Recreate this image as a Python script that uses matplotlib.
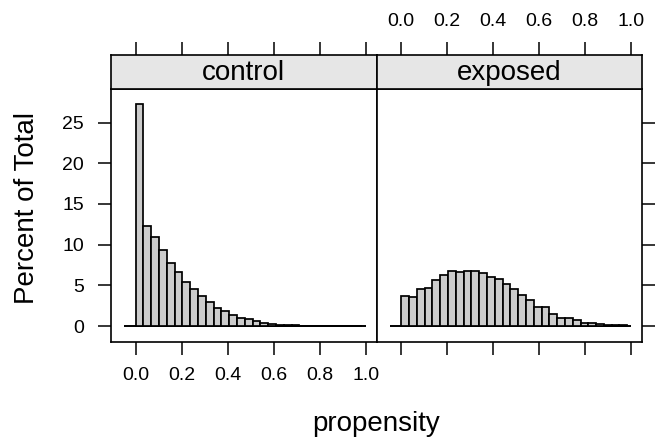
import numpy as np
import matplotlib
matplotlib.use("Agg")
import matplotlib.pyplot as plt

plt.rcParams["font.family"] = ["Liberation Sans", "DejaVu Sans"]

# ---------- data (percent of total per bin) ----------
groups = ["control", "exposed"]
bin_width = 0.0339
hist_range = (-0.05, 1.0)

control_pct = [27.3, 12.33, 10.98, 9.34, 7.79, 6.64, 5.37, 4.59, 3.69, 2.91,
               2.25, 1.84, 1.35, 1.02, 0.82, 0.57, 0.37, 0.25, 0.16, 0.12,
               0.08, 0.05, 0.03, 0.02, 0.01, 0.01, 0.0, 0.0, 0.0]
exposed_pct = [3.65, 3.53, 4.51, 4.63, 5.66, 6.31, 6.80, 6.64, 6.80, 6.80,
               6.56, 6.07, 5.74, 5.12, 4.51, 3.81, 3.24, 2.38, 2.34, 1.52,
               1.02, 0.98, 0.74, 0.41, 0.37, 0.20, 0.16, 0.12, 0.08]

x_ticks = [0.0, 0.2, 0.4, 0.6, 0.8, 1.0]
x_labels = ["0.0", "0.2", "0.4", "0.6", "0.8", "1.0"]
y_ticks = [0, 5, 10, 15, 20, 25]

# ---------- layout ----------
W, H = 660, 437
fig = plt.figure(figsize=(6.6, 4.37), dpi=100)

xlim = (-0.107, 1.047)
ylim = (-1.93, 29.2)
tick_len = 9.4
tick_fs = 14
lab_fs = 20

panel_left = [111, 376.5]
panel_w = 265.5
panel_bot, panel_top = 341.7, 88.5
strip_top = 55

for i, (name, pct) in enumerate(zip(groups, [control_pct, exposed_pct])):
    x0 = panel_left[i] / W
    ax = fig.add_axes([x0, (H - panel_bot) / H, panel_w / W, (panel_bot - panel_top) / H])
    lefts = np.arange(len(pct)) * bin_width
    ax.hlines(0, hist_range[0], hist_range[1], color="black", lw=1.4, zorder=1)
    ax.bar(lefts, pct, width=bin_width, align="edge", color="#CCCCCC",
           edgecolor="black", linewidth=1.25, zorder=2)
    ax.set_xlim(xlim)
    ax.set_ylim(ylim)
    ax.set_xticks(x_ticks)
    ax.set_yticks(y_ticks)
    ax.tick_params(direction="out", length=tick_len, width=1.1, labelsize=tick_fs,
                   pad=8.5, top=False)
    if i == 0:
        ax.set_xticklabels(x_labels)
        ax.tick_params(axis="y", left=True, right=False, labelleft=True, pad=10)
    else:
        ax.tick_params(axis="x", labelbottom=False)
        ax.tick_params(axis="y", left=False, right=True, labelleft=False,
                       labelright=False)
    for sp in ax.spines.values():
        sp.set_linewidth(1.2)

    # strip
    sax = fig.add_axes([x0, (H - panel_top) / H, panel_w / W, (panel_top - strip_top) / H])
    sax.set_facecolor("#E6E6E6")
    sax.set_xlim(xlim)
    sax.set_yticks([])
    sax.set_xticks(x_ticks)
    sax.tick_params(axis="x", direction="out", length=tick_len, width=1.1,
                    labelsize=tick_fs, pad=8.5, bottom=False, labelbottom=False,
                    top=True, labeltop=(i == 1))
    if i == 1:
        sax.set_xticklabels(x_labels)
    for sp in sax.spines.values():
        sp.set_linewidth(1.2)
    sax.text(0.5, 0.45, name, transform=sax.transAxes, ha="center", va="center",
             fontsize=lab_fs)

fig.text(27 / W, 1 - 208 / H, "Percent of Total", rotation=90, ha="center",
         va="center", fontsize=lab_fs)
fig.text(376 / W, 1 - 424 / H, "propensity", ha="center", va="center",
         fontsize=lab_fs)

fig.savefig("out.png", dpi=100)
